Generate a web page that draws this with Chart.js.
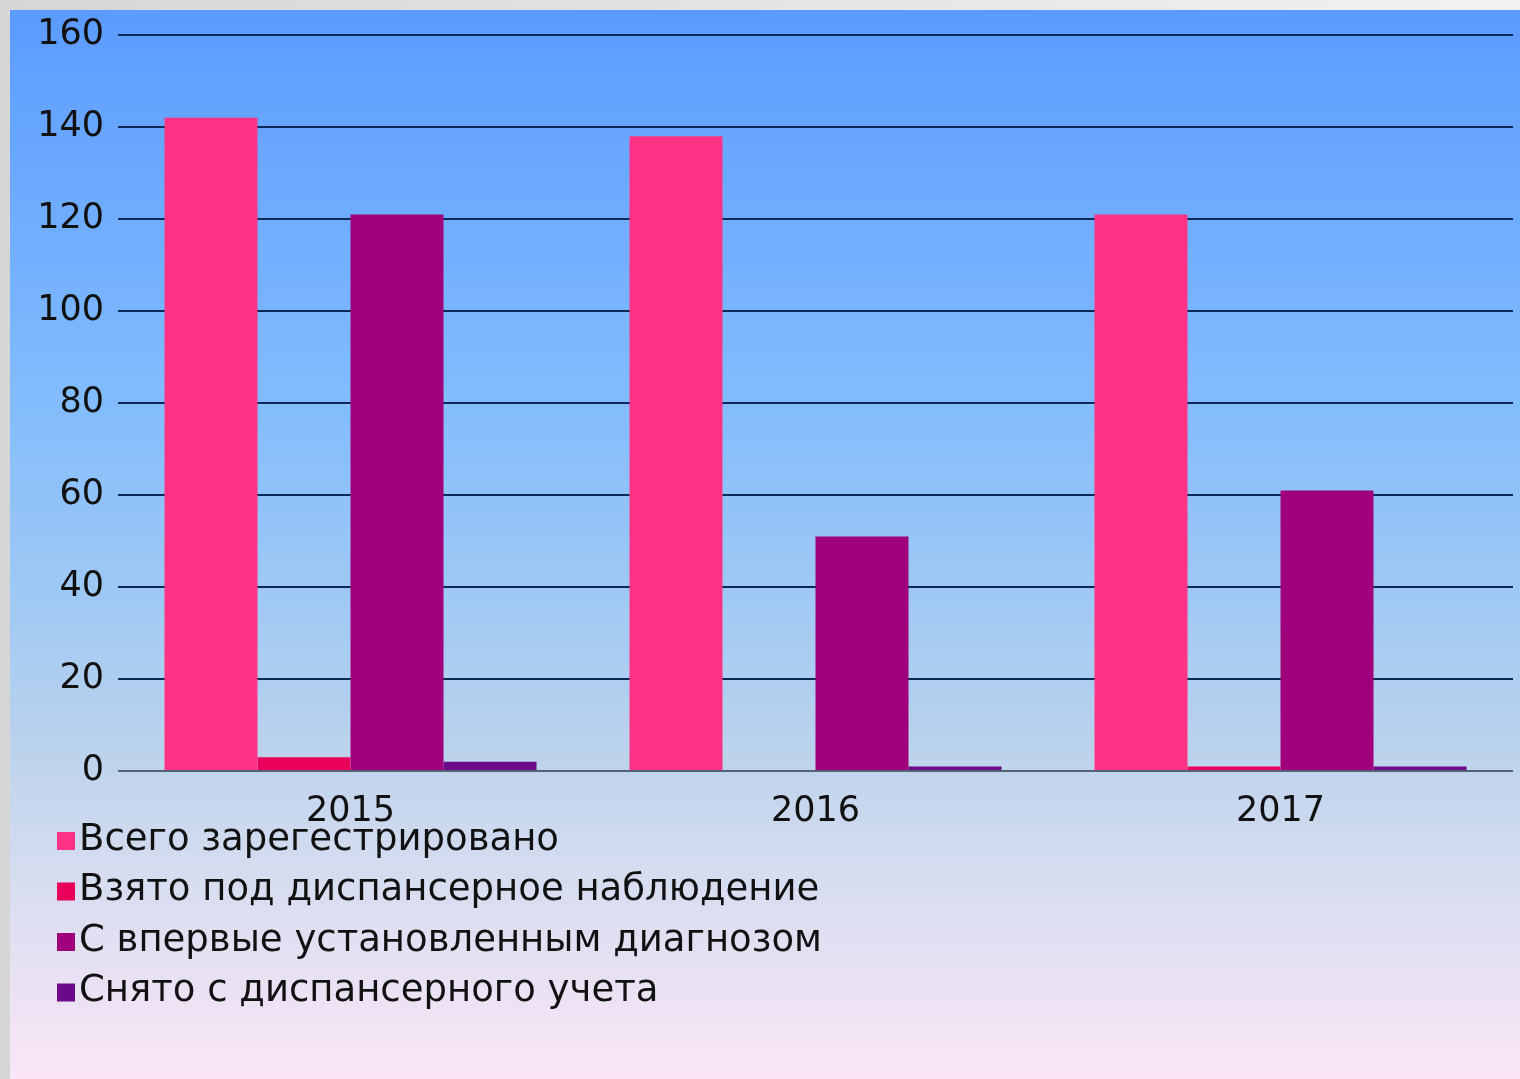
<!DOCTYPE html>
<html>
<head>
<meta charset="utf-8">
<script src="https://cdn.jsdelivr.net/npm/chart.js@4"></script>
<style>
  html, body { margin: 0; padding: 0; background: #e4e4e4; }
  #wrap { width: 1520px; height: 1079px; }
</style>
</head>
<body>
<div id="wrap"><canvas id="chart" width="1520" height="1079"></canvas></div>
<script>
// DATA
const years = ["2015", "2016", "2017"];
const seriesNames = [
    "Всего зарегестрировано",
    "Взято под диспансерное наблюдение",
    "С впервые установленным диагнозом",
    "Снято с диспансерного учета"
];
const totalRegistered = [142, 138, 121];
const takenUnderObservation = [3, 0, 1];
const firstDiagnosed = [121, 51, 61];
const removedFromRecord = [2, 1, 1];
const seriesColors = ["#ff3385", "#e8005a", "#a0007c", "#6a0a8a"];

const FONT = "'DejaVu Sans', Verdana, sans-serif";

// background: grey frame + blue-to-pink panel
const panelBg = {
    id: "panelBg",
    beforeDraw(chart) {
        const { ctx, width, height } = chart;
        ctx.save();
        const frame = ctx.createLinearGradient(0, 0, width, 0);
        frame.addColorStop(0, "#d6d6d6");
        frame.addColorStop(1, "#f2f2f2");
        ctx.fillStyle = frame;
        ctx.fillRect(0, 0, width, height);
        const g = ctx.createLinearGradient(0, 10, 0, height);
        g.addColorStop(0, "#5b9bff");
        g.addColorStop(0.35, "#80bbfd");
        g.addColorStop(0.55, "#9fc9f4");
        g.addColorStop(0.7, "#bdd3ec");
        g.addColorStop(0.8, "#d4dcf0");
        g.addColorStop(1, "#fae6f6");
        ctx.fillStyle = g;
        ctx.fillRect(10, 10, width - 10, height - 10);
        ctx.restore();
    }
};

// legend drawn as a single column under the axis
const columnLegend = {
    id: "columnLegend",
    afterDraw(chart) {
        const { ctx, chartArea } = chart;
        ctx.save();
        ctx.font = "37px " + FONT;
        ctx.textBaseline = "middle";
        chart.data.datasets.forEach((ds, i) => {
            const y = chartArea.bottom + 69 + i * 50.5;
            ctx.fillStyle = ds.backgroundColor;
            ctx.fillRect(57, y - 8, 18, 18);
            ctx.fillStyle = "#111111";
            ctx.fillText(ds.label, 79, y);
        });
        ctx.restore();
    }
};

const values = [totalRegistered, takenUnderObservation, firstDiagnosed, removedFromRecord];

new Chart(document.getElementById("chart"), {
    type: "bar",
    data: {
        labels: years,
        datasets: seriesNames.map((name, i) => ({
            label: name,
            data: values[i],
            backgroundColor: seriesColors[i],
            borderWidth: 0,
            categoryPercentage: 0.8,
            barPercentage: 1.0
        }))
    },
    options: {
        responsive: false,
        animation: false,
        layout: { padding: { left: 10, right: 7, top: 23, bottom: 248 } },
        plugins: {
            legend: { display: false },
            tooltip: { enabled: false }
        },
        scales: {
            x: {
                grid: { display: false },
                border: { display: false },
                ticks: {
                    color: "#111111",
                    font: { family: FONT, size: 35 },
                    padding: 12
                },
                afterFit: s => { s.height = 60; }
            },
            y: {
                min: 0,
                max: 160,
                border: { display: false },
                grid: {
                    drawTicks: false,
                    lineWidth: 2,
                    color: c => c.tick && c.tick.value === 0 ? "#546274" : "#0c2856"
                },
                ticks: {
                    stepSize: 20,
                    color: "#111111",
                    font: { family: FONT, size: 35 },
                    padding: 14
                },
                afterFit: s => { s.width = 108; }
            }
        }
    },
    plugins: [panelBg, columnLegend]
});
</script>
</body>
</html>
